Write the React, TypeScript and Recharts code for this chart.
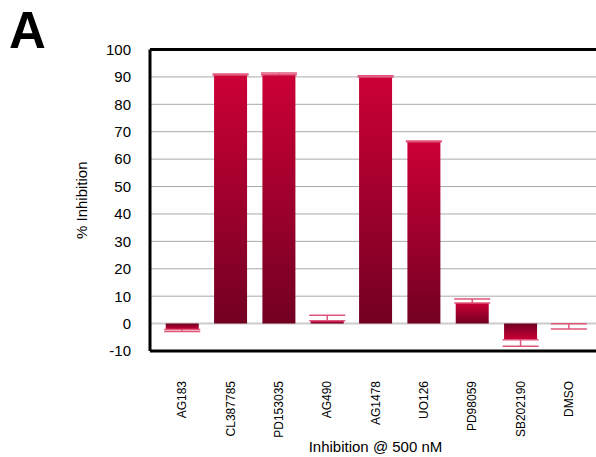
import { Bar, BarChart, CartesianGrid, Cell, ErrorBar, XAxis, YAxis } from "recharts";

const compounds = ["AG183", "CL387785", "PD153035", "AG490", "AG1478", "UO126", "PD98059", "SB202190", "DMSO"];
const inhibition = [-2.2, 90.7, 90.8, 1.0, 90.0, 66.3, 7.5, -5.9, -0.1];
const errors = [0.7, 0.4, 0.6, 2.0, 0.4, 0.3, 1.5, 2.4, 1.9];
const yTicks = [-10, 0, 10, 20, 30, 40, 50, 60, 70, 80, 90, 100];
const gridValues = [10, 20, 30, 40, 50, 60, 70, 80, 90];

const FONT = "'Liberation Sans', Arial, Helvetica, sans-serif";

// one-sided error bars, pointing away from zero
const data = compounds.map((name, i) => ({
  name,
  value: inhibition[i],
  err: inhibition[i] >= 0 ? [0, errors[i]] : [errors[i], 0],
}));

const XTick = ({ x, y, payload }: any) => (
  <text
    x={x}
    y={y}
    transform={`rotate(-90 ${x} ${y})`}
    textAnchor="end"
    dominantBaseline="central"
    fontSize={12}
    fontFamily={FONT}
    fill="#000"
  >
    {payload.value}
  </text>
);

export default function App() {
  return (
    <div style={{ position: "absolute", left: 0, top: 0, width: 596, height: 457, overflow: "hidden", background: "#fff" }}>
      <div
        style={{
          position: "absolute",
          left: 9,
          top: 5,
          fontFamily: FONT,
          fontWeight: "bold",
          fontSize: 51,
          lineHeight: 1,
        }}
      >
        A
      </div>
      <BarChart
        width={620}
        height={457}
        data={data}
        margin={{ top: 49.5, right: 19, left: 0, bottom: 0 }}
        barCategoryGap="16%"
      >
        <defs>
          <linearGradient id="gradPos" x1="0" y1="0" x2="0" y2="1">
            <stop offset="0%" stopColor="#cc0036" />
            <stop offset="100%" stopColor="#720022" />
          </linearGradient>
          <linearGradient id="gradNeg" x1="0" y1="0" x2="0" y2="1">
            <stop offset="0%" stopColor="#720022" />
            <stop offset="100%" stopColor="#cc0036" />
          </linearGradient>
        </defs>
        <CartesianGrid vertical={false} horizontalValues={gridValues} stroke="#aaaaaa" strokeWidth={1} />
        <CartesianGrid vertical={false} horizontalValues={[0]} stroke="#cccccc" strokeWidth={2} />
        <CartesianGrid vertical={false} horizontalValues={[100]} stroke="#000" strokeWidth={3} />
        <XAxis
          dataKey="name"
          interval={0}
          height={106}
          padding={{ left: 8, right: 8 }}
          tick={<XTick />}
          tickLine={false}
          tickSize={0}
          tickMargin={30}
          axisLine={{ stroke: "#000", strokeWidth: 3 }}
          label={({ viewBox }: any) => (
            <text
              x={viewBox.x + viewBox.width / 2}
              y={viewBox.y + viewBox.height - 5}
              textAnchor="middle"
              fontSize={15}
              fontFamily={FONT}
              fill="#000"
            >
              Inhibition @ 500 nM
            </text>
          )}
        />
        <YAxis
          type="number"
          domain={[-10, 100]}
          ticks={yTicks}
          interval={0}
          width={150}
          tickLine={false}
          tickSize={0}
          tickMargin={19}
          tick={{ fontSize: 15, fill: "#000", fontFamily: FONT }}
          axisLine={{ stroke: "#000", strokeWidth: 3 }}
          label={({ viewBox }: any) => (
            <text
              x={81}
              y={viewBox.y + viewBox.height / 2}
              transform={`rotate(-90 81 ${viewBox.y + viewBox.height / 2})`}
              textAnchor="middle"
              dominantBaseline="central"
              fontSize={15}
              fontFamily={FONT}
              fill="#000"
            >
              % Inhibition
            </text>
          )}
        />
        <Bar dataKey="value" isAnimationActive={false}>
          {data.map((d) => (
            <Cell key={d.name} fill={d.value >= 0 ? "url(#gradPos)" : "url(#gradNeg)"} />
          ))}
          <ErrorBar dataKey="err" width={18} stroke="#e0557a" strokeWidth={1.5} />
        </Bar>
      </BarChart>
    </div>
  );
}
